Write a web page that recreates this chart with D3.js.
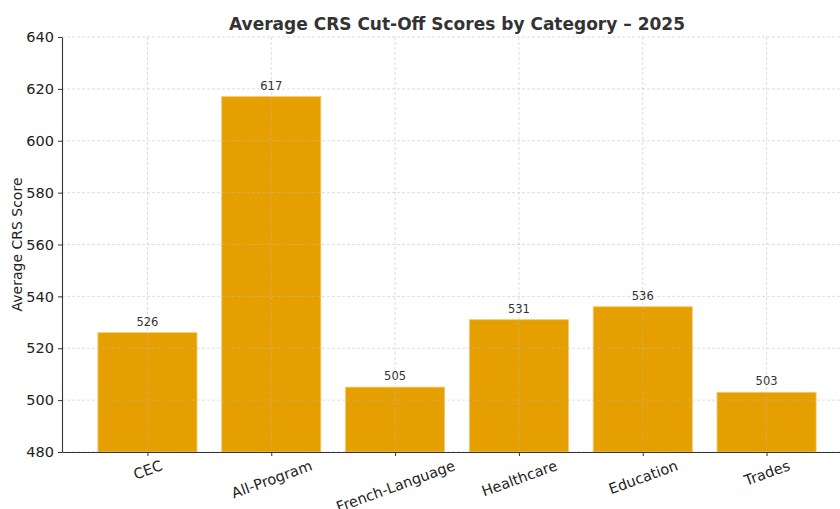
<!DOCTYPE html>
<html>
<head>
    <meta charset="utf-8">
    <title>Average CRS Cut-Off Scores</title>
    <script src="https://d3js.org/d3.v7.min.js"></script>
    <style>
        body { margin: 0; background: #fff; overflow: hidden; }
        text { font-family: "DejaVu Sans", sans-serif; }
    </style>
</head>
<body>
<div id="chart"></div>
<script>
    // data
    const categories = ["CEC", "All-Program", "French-Language", "Healthcare", "Education", "Trades"];
    const scores = [526, 617, 505, 531, 536, 503];
    const yTicks = [480, 500, 520, 540, 560, 580, 600, 620, 640];

    const W = 840, H = 509;
    const plotL = 62, plotR = 852, plotT = 37, plotB = 452;

    const svg = d3.select("#chart").append("svg")
        .attr("width", W)
        .attr("height", H);

    // x as a continuous scale over the category index (matplotlib-style margins)
    const x = d3.scaleLinear()
        .domain([-0.69, categories.length - 1 + 0.69])
        .range([plotL, plotR]);
    const barW = x(0.4) - x(-0.4);

    const y = d3.scaleLinear()
        .domain([480, 640])
        .range([plotB, plotT]);

    // bars
    svg.append("g")
        .selectAll("rect")
        .data(scores)
        .enter().append("rect")
        .attr("x", (d, i) => x(i) - barW / 2)
        .attr("y", d => y(d))
        .attr("width", barW)
        .attr("height", d => plotB - y(d))
        .attr("fill", "#e69f00")
        .attr("stroke", "#f3c766")
        .attr("stroke-width", 0.8);

    // grid on top of bars
    const grid = svg.append("g")
        .attr("stroke", "#bbb")
        .attr("stroke-width", 0.6)
        .attr("stroke-dasharray", "3,2")
        .attr("opacity", 0.8);
    grid.selectAll(".hg")
        .data(yTicks)
        .enter().append("line")
        .attr("x1", plotL).attr("x2", plotR)
        .attr("y1", d => y(d)).attr("y2", d => y(d));
    grid.selectAll(".vg")
        .data(categories)
        .enter().append("line")
        .attr("x1", (d, i) => x(i)).attr("x2", (d, i) => x(i))
        .attr("y1", plotT).attr("y2", plotB);

    // y axis
    const yAxis = svg.append("g")
        .attr("transform", `translate(${plotL},0)`)
        .call(d3.axisLeft(y).tickValues(yTicks).tickSize(4).tickPadding(4).tickSizeOuter(0));
    yAxis.select(".domain").attr("stroke", "#333").attr("stroke-width", 1.1);
    yAxis.selectAll(".tick line").attr("stroke", "#333");
    yAxis.selectAll(".tick text")
        .attr("fill", "#222")
        .style("font-size", "14.5px");

    // x axis
    const xAxis = svg.append("g")
        .attr("transform", `translate(0,${plotB})`)
        .call(d3.axisBottom(x)
            .tickValues(d3.range(categories.length))
            .tickFormat(i => categories[i])
            .tickSize(4)
            .tickSizeOuter(0));
    xAxis.select(".domain").attr("stroke", "#333").attr("stroke-width", 1.1);
    xAxis.selectAll(".tick line").attr("stroke", "#333");

    // rotated labels: top of the rotated box sits just under the ticks, centred on the tick
    const ang = 20 * Math.PI / 180;
    xAxis.selectAll(".tick text")
        .attr("fill", "#222")
        .style("font-size", "14.5px")
        .style("text-anchor", "middle")
        .attr("y", 0)
        .attr("dy", "0.35em")
        .attr("transform", function() {
            const w = this.getComputedTextLength();
            const h = 14.5;
            const boxH = w * Math.sin(ang) + h * Math.cos(ang);
            return `translate(0,${6 + boxH / 2}) rotate(-20)`;
        });

    // value labels
    svg.append("g")
        .selectAll("text")
        .data(scores)
        .enter().append("text")
        .attr("x", (d, i) => x(i))
        .attr("y", d => y(d) - 7)
        .attr("text-anchor", "middle")
        .attr("fill", "#333")
        .style("font-size", "11.5px")
        .text(d => d);

    // title
    svg.append("text")
        .attr("x", (plotL + plotR) / 2)
        .attr("y", 30)
        .attr("text-anchor", "middle")
        .attr("fill", "#333")
        .style("font-size", "17px")
        .style("font-weight", "bold")
        .text("Average CRS Cut-Off Scores by Category \u2013 2025");

    // y label
    svg.append("text")
        .attr("transform", `translate(22,${(plotT + plotB) / 2}) rotate(-90)`)
        .attr("text-anchor", "middle")
        .attr("fill", "#222")
        .style("font-size", "14px")
        .text("Average CRS Score");
</script>
</body>
</html>
